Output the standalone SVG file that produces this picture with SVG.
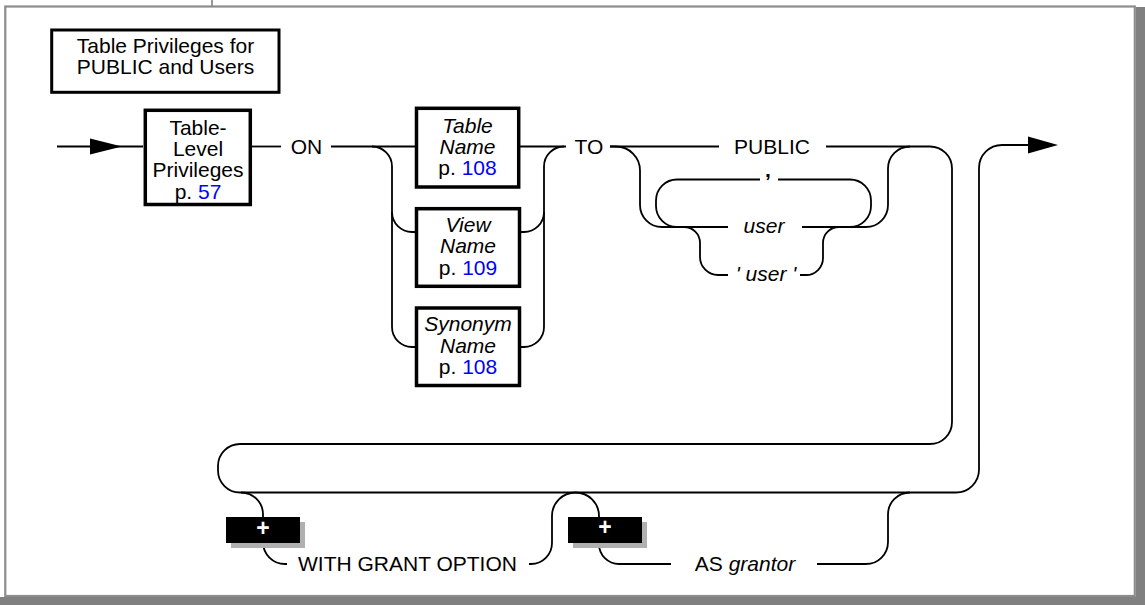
<svg xmlns="http://www.w3.org/2000/svg" width="1145" height="605" viewBox="0 0 1145 605">
<style>
.t{font-family:"Liberation Sans",Arial,sans-serif;font-size:21px;fill:#000;text-anchor:middle}
.i{font-style:italic}
.b{fill:#0000ff}
.box{fill:#fff;stroke:#000;stroke-width:3.5}
.c{fill:none;stroke:#000;stroke-width:1.8}
.plus{font-family:"Liberation Sans",Arial,sans-serif;font-size:23px;font-weight:bold;fill:#fff;text-anchor:middle}
</style>
<rect x="0" y="0" width="1145" height="605" fill="#fff"/>
<g id="frame">
<line x1="212" y1="0" x2="212" y2="6" stroke="#333" stroke-width="1"/>
<rect x="5.3" y="6.5" width="1129.5" height="589.5" fill="none" stroke="#8c8c8c" stroke-width="2.2"/>
<rect x="1136" y="7" width="9" height="598" fill="#808080"/>
<rect x="0" y="597" width="1145" height="8" fill="#808080"/>
</g>
<g id="connectors">
<path class="c" d="M57 146.5 H143"/>
<polygon points="90,138.5 122,146.5 90,154.5" fill="#000"/>
<path class="c" d="M252 146.5 H281"/>
<path class="c" d="M331 146.5 H416"/>
<path class="c" d="M372 146.5 A20 20 0 0 1 392 166.5 V327 A20 20 0 0 0 412 347 H416"/>
<path class="c" d="M392 212 A20 20 0 0 0 412 232 H416"/>
<path class="c" d="M520 232 H524 A20 20 0 0 0 544 212"/>
<path class="c" d="M520 347 H524 A20 20 0 0 0 544 327 V166.5 A20 20 0 0 1 564 146.5"/>
<path class="c" d="M520 146.5 H566"/>
<path class="c" d="M610 146.5 H719"/>
<path class="c" d="M610 146.5 H616 A24 24 0 0 1 640 170.5 V205 A22 22 0 0 0 662 227 H728"/>
<path class="c" d="M677 179.5 A21 21 0 0 0 656 200.5 V206 A21 21 0 0 0 677 227"/>
<path class="c" d="M677 179.5 H760"/>
<path class="c" d="M778 179.5 H850 A21 21 0 0 1 871 200.5 V206 A21 21 0 0 1 850 227"/>
<path class="c" d="M802 227 H866 A22 22 0 0 0 888 205 V168.5 A22 22 0 0 1 910 146.5"/>
<path class="c" d="M684 227 A16 16 0 0 1 700 243 V257 A18 18 0 0 0 718 275 H728"/>
<path class="c" d="M800 275 H806 A17 17 0 0 0 823 258 V243 A16 16 0 0 1 839 227"/>
<path class="c" d="M826 146.5 H930 A22 22 0 0 1 952 168.5 V422 A22 22 0 0 1 930 444 H240 A22 22 0 0 0 218 466 V470.5 A22 22 0 0 0 240 492.5 H956 A23 23 0 0 0 979 469.5 V168 A23 23 0 0 1 1002 145 H1030"/>
<polygon points="1028,136.5 1058,145 1028,153.5" fill="#000"/>
<path class="c" d="M241 492.5 A22 22 0 0 1 263 514.5 V542 A22 22 0 0 0 285 564 H287"/>
<path class="c" d="M529 564 H531 A21 21 0 0 0 552 543 V516 A23.5 23.5 0 0 1 575.5 492.5 A23.5 23.5 0 0 1 599 516 V544 A20 20 0 0 0 619 564 H671"/>
<path class="c" d="M817 564 H866 A22 22 0 0 0 888 542 V514.5 A22 22 0 0 1 910 492.5"/>
</g>
<g id="title">
<rect x="51.7" y="30" width="227.3" height="62.3" fill="#fff" stroke="#000" stroke-width="3"/>
<text class="t" x="165.5" y="53">Table Privileges for</text>
<text class="t" x="165.5" y="74">PUBLIC and Users</text>
</g>
<g id="table-level-privileges">
<rect class="box" x="145.3" y="110.3" width="105" height="94.2"/>
<text class="t" x="198" y="135">Table-</text>
<text class="t" x="198" y="156">Level</text>
<text class="t" x="198" y="177">Privileges</text>
<text class="t" x="198" y="198.5">p. <tspan class="b">57</tspan></text>
</g>
<g id="on"><text class="t" x="306.5" y="154">ON</text></g>
<g id="table-name">
<rect class="box" x="416.5" y="108.3" width="102.2" height="78.7"/>
<text class="t i" x="467.5" y="133">Table</text>
<text class="t i" x="467.5" y="154">Name</text>
<text class="t" x="467.5" y="175">p. <tspan class="b">108</tspan></text>
</g>
<g id="view-name">
<rect class="box" x="416.5" y="208.7" width="103" height="77.6"/>
<text class="t i" x="468" y="231.5">View</text>
<text class="t i" x="468" y="253">Name</text>
<text class="t" x="468" y="274.5">p. <tspan class="b">109</tspan></text>
</g>
<g id="synonym-name">
<rect class="box" x="416.5" y="308" width="103" height="77.5"/>
<text class="t i" x="468" y="331">Synonym</text>
<text class="t i" x="468" y="352.5">Name</text>
<text class="t" x="468" y="374">p. <tspan class="b">108</tspan></text>
</g>
<g id="to"><text class="t" x="589" y="154">TO</text></g>
<g id="public"><text class="t" x="772" y="154">PUBLIC</text></g>
<g id="comma"><text class="t" x="768" y="177" font-weight="bold" font-size="28">,</text></g>
<g id="user"><text class="t i" x="764" y="233">user</text></g>
<g id="quoted-user"><text class="t i" x="766" y="281">' user '</text></g>
<g id="plus1">
<rect x="231" y="522" width="74" height="26" fill="#b0b0b0"/>
<rect x="226" y="517" width="74" height="26" fill="#000"/>
<text class="plus" x="263" y="536">+</text>
</g>
<g id="with-grant-option"><text class="t" x="407.5" y="571">WITH GRANT OPTION</text></g>
<g id="plus2">
<rect x="573" y="522" width="74" height="26" fill="#b0b0b0"/>
<rect x="568" y="517" width="74" height="26" fill="#000"/>
<text class="plus" x="605" y="535">+</text>
</g>
<g id="as-grantor"><text class="t" x="745" y="571">AS <tspan class="i">grantor</tspan></text></g>
</svg>
